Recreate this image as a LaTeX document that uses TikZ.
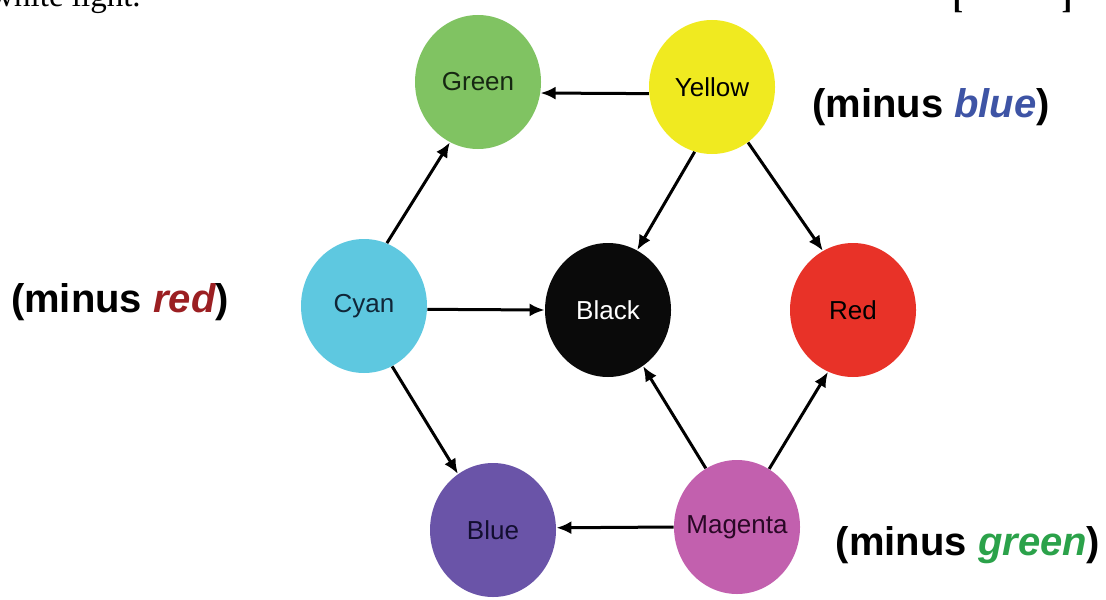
\documentclass[tikz,border=0pt]{standalone}
\usepackage{fontspec}
\setmainfont{Liberation Serif}
\setsansfont{Liberation Sans}
\usetikzlibrary{shapes.geometric,arrows.meta}

\definecolor{cgreen}{RGB}{128,195,98}
\definecolor{cyellow}{RGB}{240,234,32}
\definecolor{ccyan}{RGB}{94,200,224}
\definecolor{cblack}{RGB}{10,10,10}
\definecolor{cred}{RGB}{232,50,40}
\definecolor{cblue}{RGB}{106,84,168}
\definecolor{cmagenta}{RGB}{194,96,174}
% darker label inks inside the discs
\definecolor{lgreen}{RGB}{22,40,18}
\definecolor{lcyan}{RGB}{16,38,56}
\definecolor{lblue}{RGB}{18,14,48}
\definecolor{lmagenta}{RGB}{42,8,38}
\definecolor{tblue}{RGB}{62,84,165}
\definecolor{tred}{RGB}{155,31,34}
\definecolor{tgreen}{RGB}{43,162,74}

\tikzset{
  col/.style={ellipse, fill=#1, minimum width=63pt, minimum height=67pt,
    inner sep=0pt, font=\sffamily\fontsize{13}{15}\selectfont},
  conn/.style={-{Latex[length=7.5pt,width=6.5pt]}, line width=1.5pt},
  minus/.style={font=\sffamily\bfseries\fontsize{20}{24}\selectfont}
}

\begin{document}
\begin{tikzpicture}[x=0.5pt, y=-0.5pt]
    \useasboundingbox (0,0) rectangle (1106,599);
    \begin{scope}
        \clip (0,0) rectangle (1106,599);
        % cut-off text line above
        \node[anchor=base west, inner sep=0pt, font=\fontsize{16.5}{18}\selectfont] (above) at (-10,7) {white light.};
        \node[anchor=base, inner sep=0pt, font=\bfseries\fontsize{16}{18}\selectfont] (lbr) at (958,9) {[};
        \node[anchor=base, inner sep=0pt, font=\bfseries\fontsize{16}{18}\selectfont] (rbr) at (1067,9) {]};
    \end{scope}

    % the six colours and black
    \node[col=cgreen, text=lgreen] (green) at (478,82) {Green};
    \node[col=cyellow, text=black] (yellow) at (712,87) {Yellow};
    \node[col=ccyan, text=lcyan] (cyan) at (364,306) {Cyan};
    \node[col=cblack, text=white] (black) at (608,310) {Black};
    \node[col=cred, text=black] (red) at (853,310) {Red};
    \node[col=cblue, text=lblue] (blue) at (493,530) {Blue};
    \node[col=cmagenta, text=lmagenta, inner xsep=-4pt] (magenta) at (737,527) {Magenta};

    \draw[conn] (yellow.186) -- (green.350);
    \draw[conn] (cyan.70) -- (green.245);
    \draw[conn] (yellow.255) -- (black.64);
    \draw[conn] (yellow.303) -- (red.117);
    \draw[conn] (cyan.-3) -- (black.west);
    \draw[conn] (cyan.295) -- (blue.122);
    \draw[conn] (magenta.118) -- (black.302);
    \draw[conn] (magenta.61) -- (red.248);
    \draw[conn] (magenta.west) -- (blue.2);

    \node[minus] (mblue) at (931,107) {(minus \textcolor{tblue}{\itshape blue})};
    \node[minus] (mred) at (120,302) {(minus \textcolor{tred}{\itshape red})};
    \node[minus] (mgreen) at (968,545) {(minus \textcolor{tgreen}{\itshape green})};
\end{tikzpicture}
\end{document}
